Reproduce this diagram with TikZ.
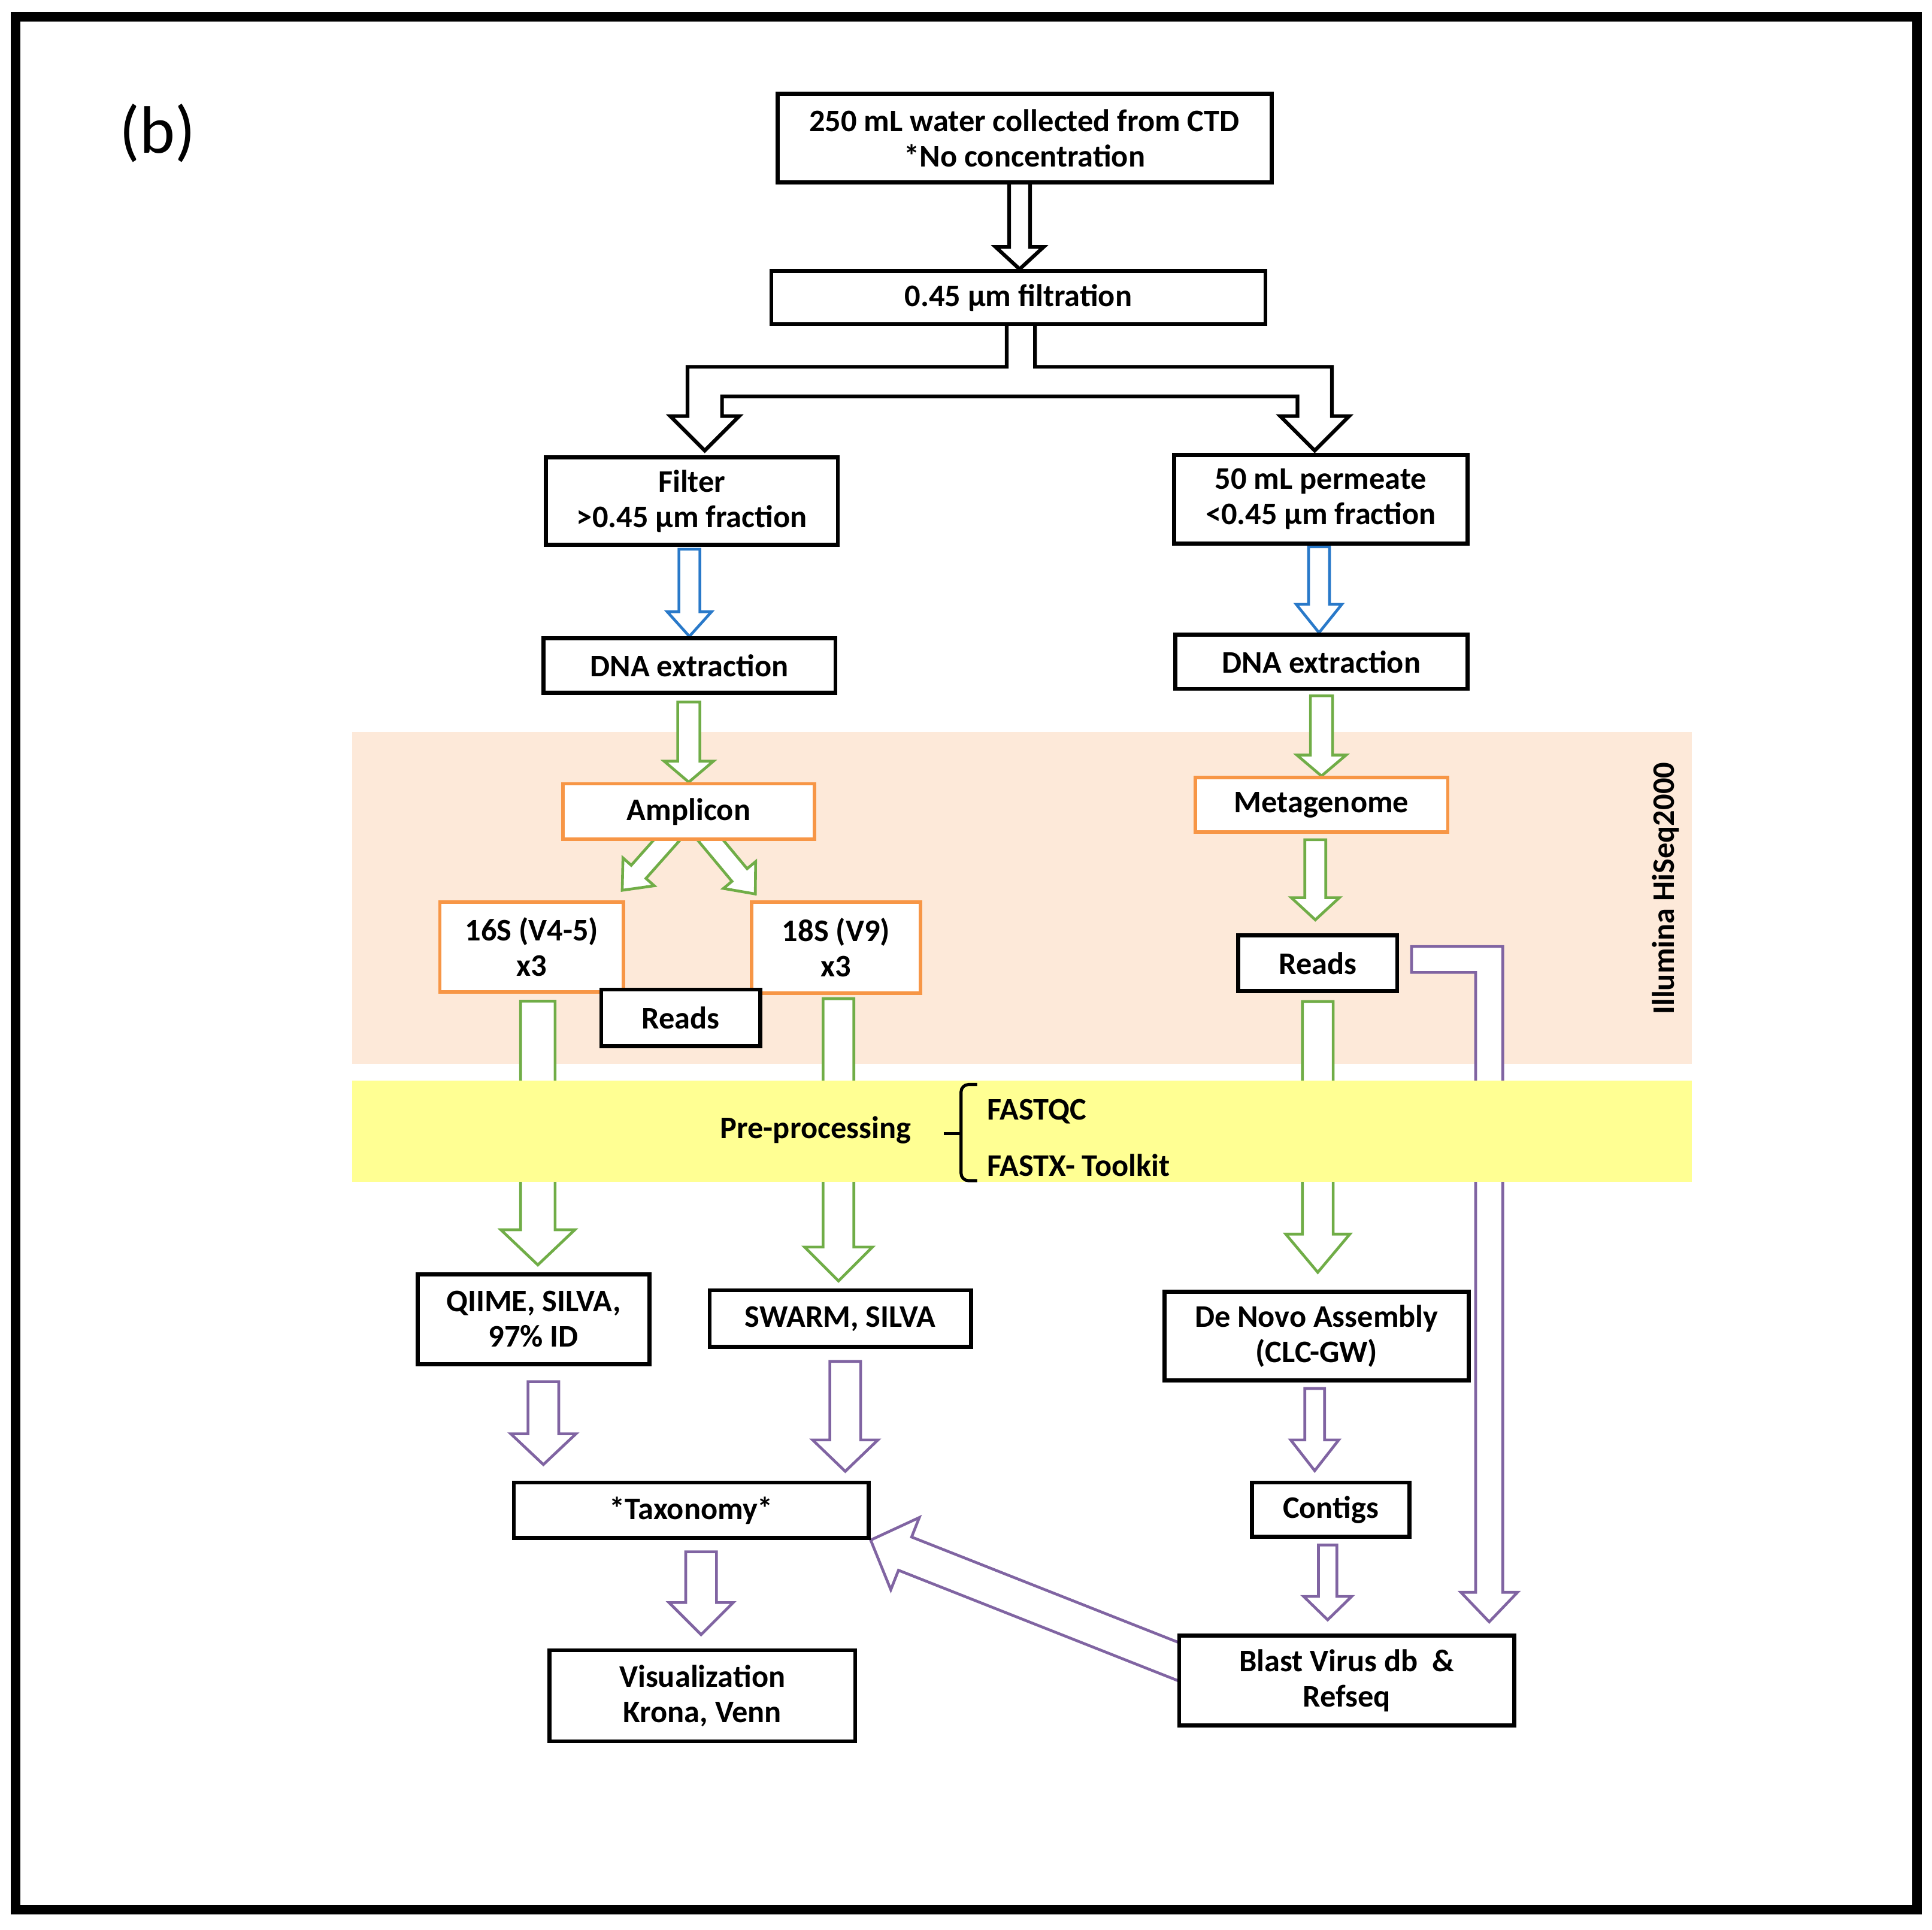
\documentclass[tikz,border=0pt]{standalone}
\usepackage{fontspec}
\setmainfont{Carlito}
\usepackage{xcolor}
\usetikzlibrary{calc}
\tikzset{font={\fontsize{14.5}{16.3}\selectfont\bfseries}}
\definecolor{boxorange}{RGB}{247,150,70}
\definecolor{leafgreen}{RGB}{112,173,71}
\definecolor{seablue}{RGB}{41,121,201}
\definecolor{lavender}{RGB}{128,100,162}
\definecolor{peach}{RGB}{253,233,217}
\definecolor{paleyellow}{RGB}{255,255,147}
\pgfdeclarelayer{band}
\pgfdeclarelayer{flow}
\pgfdeclarelayer{cover}
\pgfsetlayers{band,flow,cover,main}
% block arrow: [style]{start}{tip}{shaft half width}{head half width}{head length}
\newcommand{\blockarrow}[6][]{%
  \coordinate (ba-a) at #2;
  \coordinate (ba-b) at #3;
  \coordinate (ba-c) at ($(ba-b)!#6!(ba-a)$);
  \draw[#1] ($(ba-a)!#4!90:(ba-b)$) -- ($(ba-c)!#4!90:(ba-b)$) -- ($(ba-c)!#5!90:(ba-b)$)
    -- (ba-b) -- ($(ba-c)!#5!-90:(ba-b)$) -- ($(ba-c)!#4!-90:(ba-b)$) -- ($(ba-a)!#4!-90:(ba-b)$) -- cycle;}

\begin{document}
\begin{tikzpicture}[x=0.2mm,y=-0.2mm,
    black node/.style 2 args={draw,line width=0.65mm,fill=white,align=center,inner sep=0pt,
      minimum width=#1,minimum height=#2},
    orange node/.style 2 args={draw=boxorange,line width=0.55mm,fill=white,align=center,inner sep=0pt,
      minimum width=#1,minimum height=#2},
    plain text/.style={inner sep=0pt},
    black arrow/.style={draw,line width=0.6mm,fill=white},
    blue arrow/.style={draw=seablue,line width=0.45mm,fill=white},
    green arrow/.style={draw=leafgreen,line width=0.45mm,fill=white},
    purple arrow/.style={draw=lavender,line width=0.45mm,fill=white}]

  \useasboundingbox (0,0) rectangle (1568,1566);
  \draw[line width=1.56mm] (12.6,13.6) rectangle (1555.6,1549.3);
  \node[plain text,font=\fontsize{31}{36}\selectfont] (panel) at (128,108) {(b)};

  \node[black node={80.2mm}{14.4mm}] (top) at (831.5,112) {250 mL water collected from CTD\\{}*No concentration};
  \node[black node={80.2mm}{8.6mm}] (filt) at (826.5,241.5) {0.45 µm filtration};
  \node[black node={47.4mm}{14.2mm}] (filter) at (561.5,406.5) {Filter\\>0.45 µm fraction};
  \node[black node={47.6mm}{14.4mm}] (perm) at (1072,405) {50 mL permeate\\<0.45 µm fraction};
  \node[black node={47.4mm}{8.8mm}] (dnal) at (559.5,540) {DNA extraction};
  \node[black node={47.4mm}{8.8mm}] (dnar) at (1072.5,537) {DNA extraction};
  \node[orange node={40.8mm}{9mm}] (ampl) at (559,658.5) {Amplicon};
  \node[orange node={41mm}{8.8mm}] (meta) at (1072.5,653) {Metagenome};
  \node[orange node={29.8mm}{14.6mm}] (s16) at (431.5,768.5) {16S (V4-5)\\x3};
  \node[orange node={27.4mm}{14.8mm}] (s18) at (678.5,769) {18S (V9)\\x3};
  \node[black node={25.8mm}{9.2mm}] (readsl) at (552.5,826) {Reads};
  \node[black node={25.8mm}{9mm}] (readsr) at (1069.5,781.5) {Reads};
  \node[black node={37.6mm}{14.6mm}] (qiime) at (433,1070.5) {QIIME, SILVA,\\97\% ID};
  \node[black node={42.4mm}{9.2mm}] (swarm) at (682,1070) {SWARM, SILVA};
  \node[black node={49.4mm}{14.4mm}] (denovo) at (1068.5,1084) {De Novo Assembly\\(CLC-GW)};
  \node[black node={57.6mm}{9mm}] (tax) at (561,1225.5) {*Taxonomy*};
  \node[black node={25.6mm}{8.8mm}] (contigs) at (1080,1225) {Contigs};
  \node[black node={54.4mm}{14.6mm}] (blast) at (1093,1363.5) {Blast Virus db~~\&\\Refseq};
  \node[black node={49.6mm}{14.8mm}] (vis) at (570,1376) {Visualization\\Krona, Venn};

  \node[plain text,rotate=90] (illumina) at (1352,721) {Illumina HiSeq2000};
  \node[plain text] (prep) at (662,917) {Pre-processing};
  \node[plain text,anchor=west] (fastqc) at (801,902) {FASTQC};
  \node[plain text,anchor=west] (fastx) at (801,945.5) {FASTX- Toolkit};
  \draw[line width=0.5mm,rounded corners=1.2mm] (793,880) -- (780,880) -- (780,958) -- (793,958);
  \draw[line width=0.5mm] (766,920) -- (780,920);

  \begin{pgfonlayer}{band}
    \fill[peach] (286,594) rectangle (1373,863);
  \end{pgfonlayer}
  \begin{pgfonlayer}{cover}
    \fill[paleyellow] (286,877) rectangle (1373,959);
  \end{pgfonlayer}

  \begin{pgfonlayer}{flow}
    \blockarrow[black arrow]{($(top.south)+(-4,-3)$)}{($(filt.north)+(1,0)$)}{1.7mm}{3.9mm}{3.6mm}
    \draw[black arrow] ($(filt.south)+(-9.5,-3)$) -- ++(0,36) -- ++(-259,0) -- ++(0,40) -- ++(-14,0)
      -- ++(28,28) -- ++(28,-28) -- ++(-14,0) -- ++(0,-16) -- ++(467,0) -- ++(0,16) -- ++(-14,0)
      -- ++(28,28) -- ++(28,-28) -- ++(-14,0) -- ++(0,-40) -- ++(-241,0) -- ++(0,-36) -- cycle;

    \blockarrow[blue arrow]{($(filter.south)+(-2,2)$)}{(dnal.north)}{1.7mm}{3.6mm}{4mm}
    \blockarrow[blue arrow]{($(perm.south)+(-1.5,1)$)}{($(dnar.north)+(-2,0)$)}{1.7mm}{3.7mm}{4.6mm}

    \blockarrow[green arrow]{($(dnal.south)+(-0.5,6)$)}{(ampl.north)}{1.8mm}{4mm}{3.4mm}
    \blockarrow[green arrow]{($(dnar.south)+(0,4)$)}{(meta.north)}{1.8mm}{4mm}{3.4mm}
    \blockarrow[green arrow]{($(meta.south)+(-5,5)$)}{($(readsr.north)+(-2,-11)$)}{1.7mm}{3.9mm}{3.6mm}
    \blockarrow[green arrow]{($(ampl.south)+(-14,-5)$)}{($(ampl.south)+(-54,40)$)}{1.6mm}{3.4mm}{4mm}
    \blockarrow[green arrow]{($(ampl.south)+(14,-5)$)}{($(ampl.south)+(54,43)$)}{1.6mm}{3.4mm}{4mm}
    \blockarrow[green arrow]{($(s16.south)+(5,6)$)}{($(qiime.north)+(3.5,-6)$)}{2.8mm}{6mm}{5.7mm}
    \blockarrow[green arrow]{($(s18.south)+(2,3)$)}{($(swarm.north)+(-1.5,-6)$)}{2.5mm}{5.5mm}{5.5mm}
    \blockarrow[green arrow]{($(readsr.south)+(0,7)$)}{($(denovo.north)+(1,-14)$)}{2.5mm}{5.2mm}{6.2mm}

    \blockarrow[purple arrow]{($(qiime.south)+(8,12.5)$)}{($(tax.north)+(-120,-13)$)}{2.5mm}{5.3mm}{5mm}
    \blockarrow[purple arrow]{($(swarm.south)+(4,10)$)}{($(tax.north)+(125,-7.5)$)}{2.5mm}{5.3mm}{5.1mm}
    \blockarrow[purple arrow]{($(tax.south)+(8,9.5)$)}{($(vis.north)+(-1,-11)$)}{2.5mm}{5.2mm}{5.2mm}
    \blockarrow[purple arrow]{($(denovo.south)+(-1.5,5)$)}{($(contigs.north)+(-13,-8)$)}{1.6mm}{3.9mm}{5mm}
    \blockarrow[purple arrow]{($(contigs.south)+(-2.5,5)$)}{($(blast.north)+(-15.5,-11)$)}{1.5mm}{3.9mm}{3.8mm}
    \blockarrow[purple arrow]{($(blast.west)+(13,-10.5)$)}{(tax.south east)}{2.9mm}{6.3mm}{6mm}
    \draw[purple arrow] ($(readsr.east)+(10,-13.5)$) -- ++(74,0) -- ++(0,524) -- ++(12,0) -- ++(-23,24)
      -- ++(-23,-24) -- ++(12,0) -- ++(0,-503) -- ++(-52,0) -- cycle;
  \end{pgfonlayer}
\end{tikzpicture}
\end{document}
